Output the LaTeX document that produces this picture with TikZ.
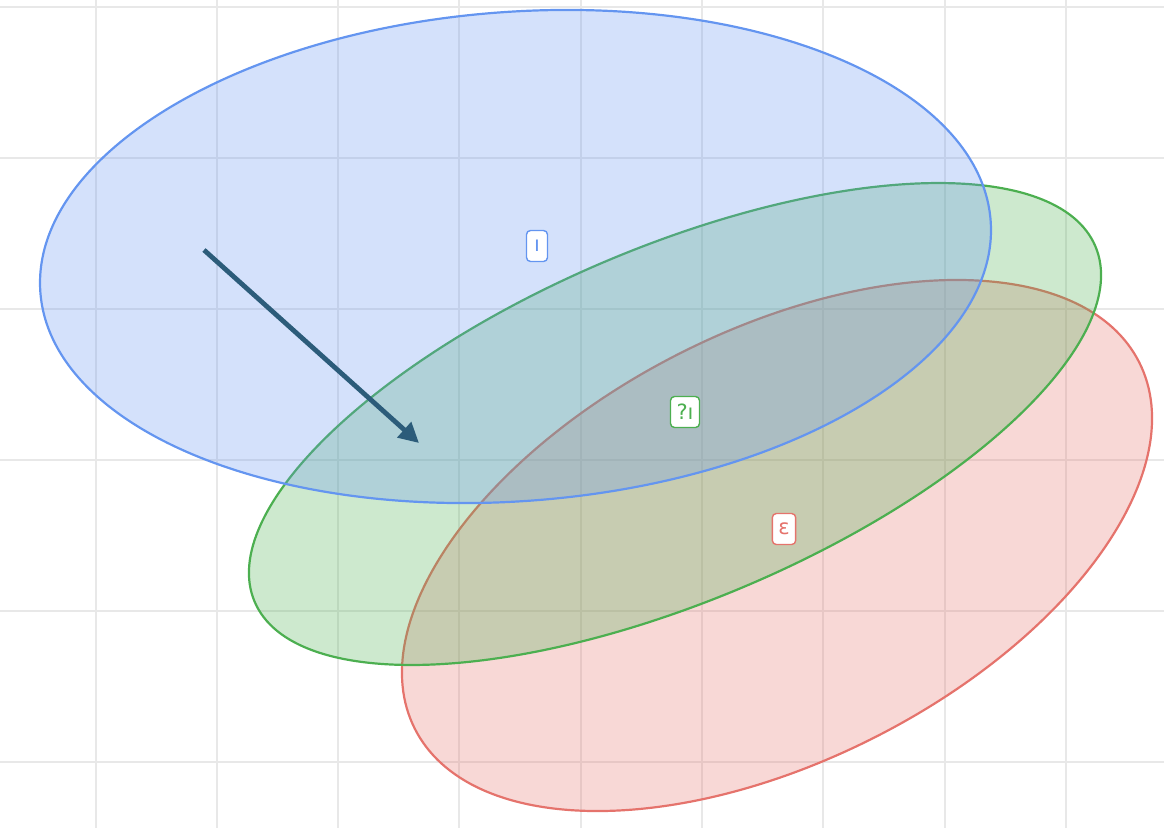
\documentclass[tikz,border=0pt]{standalone}
\usepackage{fontspec}
\newfontfamily\labfont{DejaVu Sans}
\usetikzlibrary{arrows.meta}
\definecolor{gridc}{RGB}{232,232,232}
\definecolor{bluec}{RGB}{100,149,240}
\definecolor{greenc}{RGB}{76,175,80}
\definecolor{redc}{RGB}{229,115,108}
\definecolor{arrowc}{RGB}{44,92,122}
\tikzset{
  gridline/.style={draw=gridc, line width=2pt},
  setshape/.style={line width=2.2pt, fill opacity=0.28},
  setlabel/.style={draw=#1, text=#1, fill=white, rounded corners=4pt, line width=1.4pt,
    font=\labfont\fontsize{21}{21}\selectfont, inner xsep=6pt, inner ysep=0pt,
    minimum height=31pt, minimum width=21pt},
  flowarrow/.style={draw=arrowc, line width=4.8pt, -{Triangle[length=20pt,width=20pt]}}
}
\begin{document}
\begin{tikzpicture}[x=1pt,y=-1pt]
\useasboundingbox (0,0) rectangle (1164,828);
% grid
\foreach \gx in {96,217,338,459,581,702,823,945,1066}
  \draw[gridline] (\gx,0) -- (\gx,828);
\foreach \gy in {7,158,309,460,611,762}
  \draw[gridline] (0,\gy) -- (1164,\gy);
% sets: red bottom, green, blue top
\draw[setshape, draw=redc, fill=redc, rotate around={26.85:(777,545.5)}]
  (777,545.5) ellipse [x radius=405.9pt, y radius=215.3pt];
\draw[setshape, draw=greenc, fill=greenc, rotate around={22.9:(675,424)}]
  (675,424) ellipse [x radius=456.4pt, y radius=176.8pt];
\draw[setshape, draw=bluec, fill=bluec, rotate around={4.33:(515.5,256.5)}]
  (515.5,256.5) ellipse [x radius=476.5pt, y radius=244.6pt];
% labels
\node[setlabel=bluec] (lblue) at (537,246) {ı};
\node[setlabel=greenc] (lgreen) at (685,412) {?ı};
\node[setlabel=redc] (lred) at (784,529) {ɛ};
% arrow
\coordinate (astart) at (204,250);
\coordinate (aend) at (419,443);
\draw[flowarrow] (astart) -- (aend);
\end{tikzpicture}
\end{document}
